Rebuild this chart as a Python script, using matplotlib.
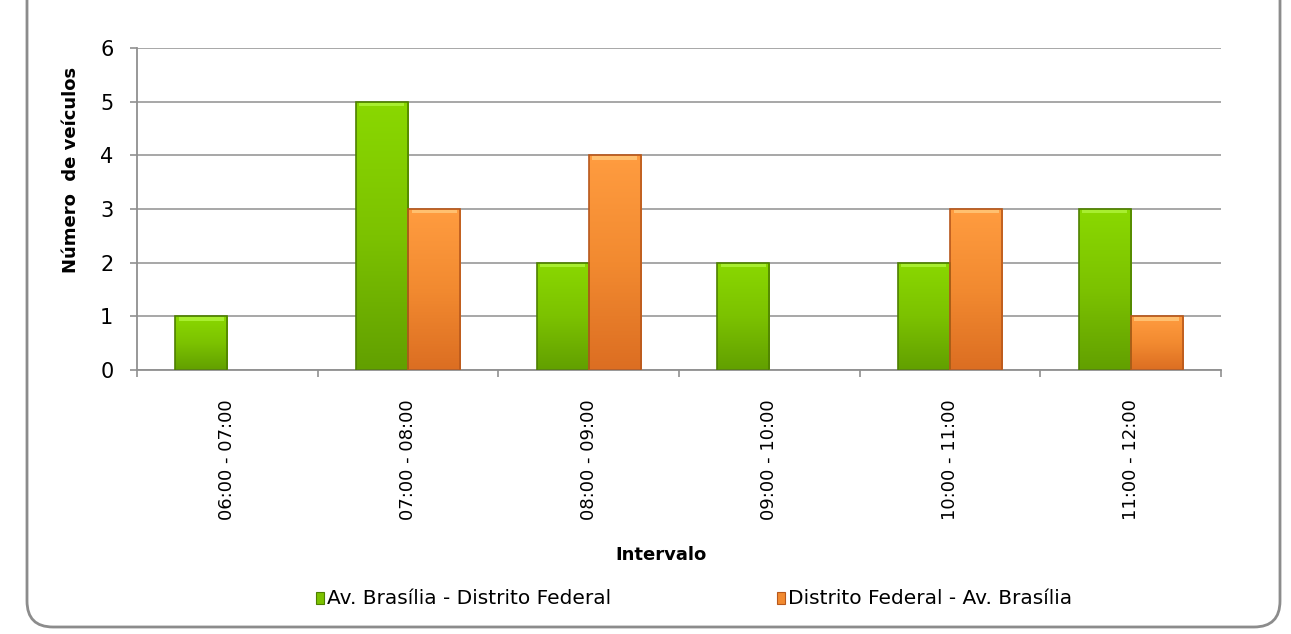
import numpy as np
import matplotlib.pyplot as plt
from matplotlib.patches import FancyBboxPatch, Rectangle
from matplotlib.colors import LinearSegmentedColormap

plt.rcParams['font.family'] = ['DejaVu Sans']

intervalos = ['06:00 - 07:00', '07:00 - 08:00', '08:00 - 09:00',
              '09:00 - 10:00', '10:00 - 11:00', '11:00 - 12:00']
av_df = [1, 5, 2, 2, 2, 3]
df_av = [0, 3, 4, 0, 3, 1]
series_names = ['Av. Brasília - Distrito Federal', 'Distrito Federal - Av. Brasília']

W, H = 1291, 634
fig = plt.figure(figsize=(W / 100, H / 100), dpi=100)

# background axes in pixel coords for the rounded frame and legend
bg = fig.add_axes([0, 0, 1, 1])
bg.set_xlim(0, W)
bg.set_ylim(H, 0)
bg.axis('off')
bg.add_patch(FancyBboxPatch((27, -40), 1280 - 27, 627 + 40,
                            boxstyle='round,pad=0,rounding_size=26',
                            facecolor='white', edgecolor='#8c8c8c', lw=2))

ax = fig.add_axes([137 / W, 1 - 370 / H, (1221 - 137) / W, (370 - 48) / H])
ax.set_facecolor('none')

x = np.arange(len(intervalos))
bw = 0.2885
green = LinearSegmentedColormap.from_list('g', ['#62a000', '#7cc200', '#8ad800'])
orange = LinearSegmentedColormap.from_list('o', ['#dc6e22', '#f28a30', '#ff9c40'])
grad = np.linspace(0, 1, 100).reshape(-1, 1)

def draw(vals, offset, cmap, edge, top):
    edges = [edge if v > 0 else 'none' for v in vals]
    bars = ax.bar(x + offset, vals, bw, facecolor='none', edgecolor=edges, lw=1.2, zorder=3)
    for b, v in zip(bars, vals):
        if v == 0:
            continue
        x0, w = b.get_x(), b.get_width()
        im = ax.imshow(grad, cmap=cmap, aspect='auto', origin='lower',
                       extent=[x0, x0 + w, 0, v], zorder=2)
        im.set_clip_path(b)
        ax.add_patch(Rectangle((x0 + 0.02, v - 0.08), w - 0.04, 0.06,
                               facecolor=top, edgecolor='none', zorder=2.5))

draw(av_df, -bw / 2, green, '#4e8000', '#a8ee30')
draw(df_av, bw / 2, orange, '#b8581c', '#ffc070')

ax.set_xlim(-0.5, len(intervalos) - 0.5)
ax.set_ylim(0, 6)
ax.set_yticks(range(7))
ax.yaxis.grid(True, color='#a0a0a0', lw=1.3, zorder=0)
ax.set_axisbelow(True)
ax.set_xticks(x)
ax.set_xticklabels(intervalos, rotation=90, fontsize=13)
ax.set_xticks(np.arange(-0.5, len(intervalos)), minor=True)
ax.tick_params(axis='x', which='major', length=0, pad=21)
ax.tick_params(axis='x', which='minor', length=5, color='#909090', width=1.2)
ax.tick_params(axis='y', length=5, color='#909090', width=1.2, labelsize=15, pad=12)
for s in ['top', 'right']:
    ax.spines[s].set_visible(False)
for s in ['left', 'bottom']:
    ax.spines[s].set_color('#909090')
    ax.spines[s].set_linewidth(1.3)

bg.text(71, 170, 'Número  de veículos', rotation=90, ha='center',
        va='center', fontsize=13, fontweight='bold')
bg.text(661, 555, 'Intervalo', ha='center', va='center',
        fontsize=13, fontweight='bold')

# legend
for lx, name, c, e in [(316, series_names[0], '#7cc200', '#4e8000'),
                        (777, series_names[1], '#f28a30', '#b8581c')]:
    bg.add_patch(Rectangle((lx, 592), 8, 12, facecolor=c, edgecolor=e, lw=0.8))
    bg.text(lx + 11, 598, name, ha='left', va='center', fontsize=14.5)

fig.savefig('out.png', dpi=100)
